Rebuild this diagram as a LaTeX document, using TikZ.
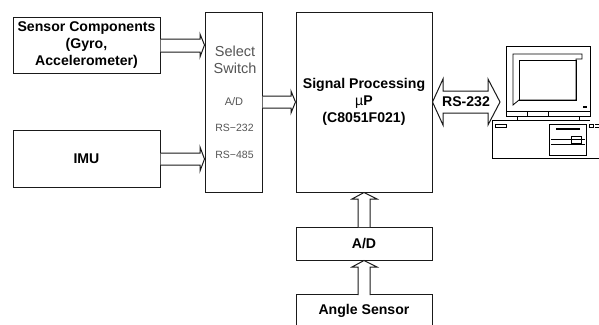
\documentclass[tikz,border=0pt]{standalone}
\usepackage{fontspec}
\setmainfont{Liberation Sans}
\definecolor{ink}{HTML}{1A1A1A}
\definecolor{soft}{HTML}{555555}
\tikzset{
  px/.style={x=1pt,y=-1pt},
  box/.style={draw=ink,line width=1pt,fill=white,inner sep=0pt,align=center,font=\fontsize{14.1}{17.3}\selectfont\bfseries,text=black},
  flow/.style={draw=ink,line width=1pt,line join=miter,fill=white},
  pcline/.style={draw=black,line width=0.8pt},
  softtext/.style={text=soft,inner sep=0pt},
}
\begin{document}
\begin{tikzpicture}[px]
\useasboundingbox (0,0) rectangle (599,324);
\clip (0,0) rectangle (599,324);
\node[box,minimum width=147pt,minimum height=56pt] (sensor) at (86.5,45) {\raisebox{-0.8pt}{Sensor Components}\\\raisebox{-0.8pt}{(Gyro,}\\\raisebox{-0.8pt}{Accelerometer)}};
\node[box,minimum width=147pt,minimum height=57pt] (imu) at (86.5,158.5) {IMU};
\node[box,minimum width=57pt,minimum height=180pt] (switch) at (233.5,102) {};
\node[box,minimum width=136pt,minimum height=180pt] (proc) at (364,102) {\raisebox{-0.8pt}{Signal Processing}\\\raisebox{-0.8pt}{{\fontseries{m}\selectfont µ}P}\\\raisebox{-0.8pt}{(C8051F021)}};
\node[box,minimum width=136pt,minimum height=33pt] (adc) at (364,243.5) {A/D};
\node[box,minimum width=136pt,minimum height=33pt] (angle) at (364,311) {};
\node[inner sep=0pt,font=\fontsize{14.1}{15}\selectfont\bfseries] (angletext) at (364,311) {Angle Sensor};
\node[softtext,font=\fontsize{14.5}{17}\selectfont,align=center] (selecttext) at (235,60) {Select\\Switch};
\node[softtext,font=\fontsize{11}{11}\selectfont] (atext) at (234,101.5) {A/D};
\node[softtext,font=\fontsize{10.5}{11}\selectfont] (rsa) at (234.5,128) {RS−232};
\node[softtext,font=\fontsize{10.5}{11}\selectfont] (rsb) at (234.5,155) {RS−485};
% block arrows
\draw[flow] (sensor.east |- 0,39) -- (200,39) -- (200,34) -- (switch.west |- 0,45) -- (200,57) -- (200,52) -- (sensor.east |- 0,52);
\draw[flow] (imu.east |- 0,153) -- (200,153) -- (200,147) -- (switch.west |- 0,159) -- (200,171) -- (200,165) -- (imu.east |- 0,165);
\draw[flow] (switch.east |- 0,96) -- (291,96) -- (291,91) -- (proc.west |- 0,102) -- (291,113) -- (291,108) -- (switch.east |- 0,108);
\draw[flow] (proc.east |- 0,102) -- (443,79) -- (443,91) -- (488,91) -- (488,79) -- (500,102) -- (488,125) -- (488,113) -- (443,113) -- (443,125) -- cycle;
\draw[flow] (358,227) -- (358,199) -- (352,199) -- (proc.south) -- (377,199) -- (370,199) -- (370,227);
\draw[flow] (358,295) -- (358,267) -- (352,267) -- (adc.south) -- (377,267) -- (370,267) -- (370,295);
\node[inner sep=0pt,font=\fontsize{14.1}{15}\selectfont\bfseries] (rstext) at (466,101.5) {RS-232};
% computer
\draw[pcline,fill=white] (506,46) rectangle (590,111);
\draw[pcline] (506,111) rectangle (590,116);
\draw[pcline] (527,111) -- (527,116) (548,111) -- (548,116);
\draw[pcline] (517,116) -- (517,120) (579,116) -- (579,120);
\draw[pcline] (513,54) -- (582,54) -- (582,59) -- (576,59) -- (576,100) -- (519,100) -- (513,105) -- cycle;
\draw[pcline] (519,60) rectangle (576,100);
\draw[black,line width=1.2pt] (583,107) -- (587,107);
\draw[pcline] (590,120) -- (492,120) -- (492,158.5) -- (599,158.5);
\draw[pcline] (495,124) rectangle (506,127);
\draw[pcline] (549,124) rectangle (586,155);
\draw[black,line width=1.5pt] (556,129) -- (580,129);
\draw[pcline] (551,139) -- (585,139) (551,144) -- (585,144);
\draw[pcline] (571,136) rectangle (581,143);
\draw[pcline] (589,124) rectangle (593,127);
\draw[pcline] (595,124) -- (599,124) (595,127) -- (599,127);
\end{tikzpicture}
\end{document}
